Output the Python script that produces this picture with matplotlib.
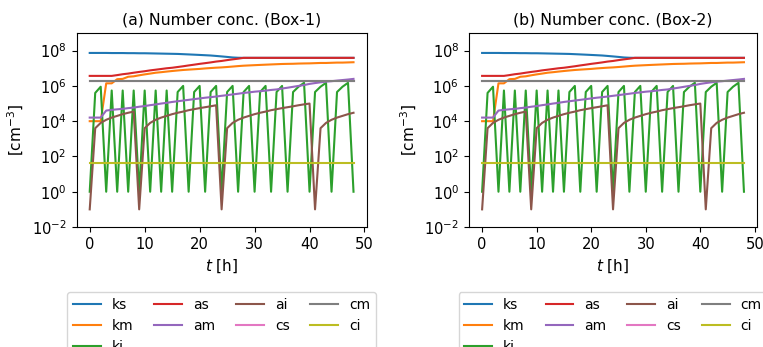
import numpy as np
import matplotlib
matplotlib.use("Agg")
import matplotlib.pyplot as plt
from matplotlib.ticker import NullLocator

# hourly output, 0..48 h
hours = np.arange(49)

ks = [7.4e7, 7.4e7, 7.4e7, 7.4e7, 7.3e7, 7.3e7, 7.3e7, 7.2e7, 7.2e7, 7.1e7,
      7.1e7, 7.0e7, 6.9e7, 6.8e7, 6.7e7, 6.6e7, 6.5e7, 6.3e7, 6.1e7, 5.9e7,
      5.7e7, 5.5e7, 5.3e7, 5.0e7, 4.7e7, 4.4e7, 4.1e7, 3.95e7, 3.9e7, 3.9e7,
      3.9e7, 3.9e7, 3.9e7, 3.9e7, 3.9e7, 3.9e7, 3.9e7, 3.9e7, 3.9e7, 3.9e7,
      3.9e7, 3.9e7, 3.9e7, 3.9e7, 3.9e7, 3.9e7, 3.9e7, 3.9e7, 3.9e7]
km = [1.0e4, 1.0e4, 1.0e4, 1.4e6, 1.4e6, 2.4e6, 2.5e6, 3.3e6, 3.5e6, 4.0e6,
      4.5e6, 5.0e6, 5.6e6, 6.0e6, 6.5e6, 7.0e6, 7.5e6, 8.0e6, 8.4e6, 8.8e6,
      9.2e6, 9.8e6, 1.03e7, 1.08e7, 1.12e7, 1.18e7, 1.25e7, 1.33e7, 1.4e7, 1.45e7,
      1.5e7, 1.55e7, 1.6e7, 1.65e7, 1.7e7, 1.75e7, 1.78e7, 1.8e7, 1.85e7, 1.88e7,
      1.9e7, 1.95e7, 2.0e7, 2.0e7, 2.05e7, 2.1e7, 2.1e7, 2.15e7, 2.2e7]
ki = [1, 4e5, 9e5, 1, 5.5e5, 1, 5.5e5, 1, 5.5e5, 1,
      5.5e5, 1, 5.5e5, 1, 5.5e5, 1, 4.5e5, 1.0e6, 1, 4.5e5,
      1.0e6, 1, 4.5e5, 1.0e6, 1, 4.5e5, 1.0e6, 1, 4.5e5, 1.0e6,
      1, 4.5e5, 1.0e6, 1, 4.5e5, 1.0e6, 1, 4.5e5, 9e5, 1.5e6,
      1, 4.5e5, 9e5, 1.5e6, 1, 4.5e5, 9e5, 1.5e6, 1]
as_ = [3.7e6, 3.7e6, 3.7e6, 3.7e6, 3.7e6, 4.1e6, 4.6e6, 5.0e6, 5.6e6, 6.2e6,
       6.8e6, 7.6e6, 8.3e6, 9.1e6, 1.0e7, 1.07e7, 1.18e7, 1.3e7, 1.45e7, 1.6e7,
       1.78e7, 1.95e7, 2.15e7, 2.4e7, 2.6e7, 2.9e7, 3.2e7, 3.5e7, 3.9e7, 3.9e7,
       3.9e7, 3.9e7, 3.9e7, 3.9e7, 3.9e7, 3.9e7, 3.9e7, 3.9e7, 3.9e7, 3.9e7,
       3.9e7, 3.9e7, 3.9e7, 3.9e7, 3.9e7, 3.9e7, 3.9e7, 3.9e7, 3.9e7]
am = [1.6e4, 1.6e4, 1.6e4, 4.0e4, 4.4e4, 4.7e4, 5.0e4, 5.5e4, 5.9e4, 6.6e4,
      7.2e4, 8.1e4, 8.9e4, 1.0e5, 1.1e5, 1.23e5, 1.35e5, 1.48e5, 1.62e5, 1.78e5,
      1.95e5, 2.14e5, 2.3e5, 2.5e5, 2.75e5, 3.0e5, 3.3e5, 3.6e5, 4.0e5, 4.3e5,
      4.7e5, 5.0e5, 5.4e5, 5.9e5, 6.3e5, 7.1e5, 7.9e5, 8.9e5, 1.0e6, 1.12e6,
      1.3e6, 1.45e6, 1.6e6, 1.75e6, 1.85e6, 2.0e6, 2.15e6, 2.3e6, 2.5e6]
ai = [0.1, 4.0e3, 8.0e3, 1.2e4, 1.6e4, 2.0e4, 2.5e4, 3.0e4, 3.5e4, 0.1,
      4.0e3, 8.0e3, 1.2e4, 1.6e4, 2.0e4, 2.5e4, 3.0e4, 3.5e4, 4.2e4, 4.8e4,
      5.5e4, 6.2e4, 7.0e4, 8.0e4, 0.1, 4.0e3, 8.0e3, 1.2e4, 1.6e4, 2.0e4,
      2.5e4, 3.0e4, 3.5e4, 4.2e4, 4.8e4, 5.5e4, 6.2e4, 7.0e4, 8.0e4, 9.0e4,
      1.0e5, 0.1, 4.0e3, 8.0e3, 1.2e4, 1.6e4, 2.0e4, 2.5e4, 3.0e4]
cs = [1.8e6] * 49
cm = [1.8e6] * 49
ci = [40] * 49

names = ["ks", "km", "ki", "as", "am", "ai", "cs", "cm", "ci"]
series = [ks, km, ki, as_, am, ai, cs, cm, ci]
titles = ["(a) Number conc. (Box-1)", "(b) Number conc. (Box-2)"]

fig = plt.figure(figsize=(7.63, 3.47), dpi=100)
ax1 = fig.add_axes([0.1003, 0.3458, 0.3803, 0.5591])
ax2 = fig.add_axes([0.6147, 0.3458, 0.3775, 0.5591])

for ax, title in zip([ax1, ax2], titles):
    for name, vals in zip(names, series):
        ax.plot(hours, vals, label=name)
    ax.set_yscale("log")
    ax.set_ylim(1e-2, 1e9)
    ax.set_xlim(-2.4, 50.4)
    ax.set_xticks([0, 10, 20, 30, 40, 50])
    ax.set_yticks([1e-2, 1e0, 1e2, 1e4, 1e6, 1e8])
    ax.yaxis.set_minor_locator(NullLocator())
    ax.tick_params(labelsize=10.6)
    ax.set_title(title, fontsize=11.3)
    ax.set_xlabel("$t$ [h]", fontsize=11)
    ax.set_ylabel("[cm$^{-3}$]", fontsize=11)
    ax.legend(loc="upper center", bbox_to_anchor=(0.5, -0.3), ncol=4,
              fontsize=10, columnspacing=1.5)

fig.savefig("out.png", dpi=100)
